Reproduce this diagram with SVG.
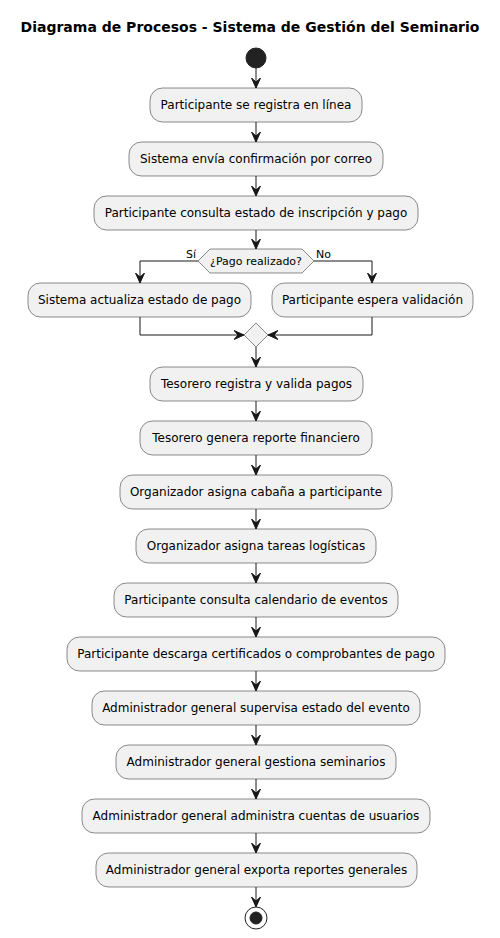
<svg xmlns="http://www.w3.org/2000/svg" width="500" height="938" viewBox="0 0 500 938">
<style>
.box{fill:#F1F1F1;stroke:#181818;stroke-width:0.5}
.t{font-family:"DejaVu Sans",sans-serif;font-size:12px;fill:#000;text-anchor:middle}
.s{font-family:"DejaVu Sans",sans-serif;font-size:11px;fill:#000}
.ln{fill:none;stroke:#181818;stroke-width:1}
.title{font-family:"DejaVu Sans",sans-serif;font-size:14px;font-weight:bold;text-anchor:middle}
</style>
<defs>
<marker id="ah" viewBox="0 0 12 10" refX="10" refY="5" markerWidth="12" markerHeight="10" markerUnits="userSpaceOnUse" orient="auto">
<polygon points="0,0.5 10,5 0,9.5 4,5" fill="#181818" stroke="#181818" stroke-width="1"/>
</marker>
</defs>
<rect width="500" height="938" fill="#FFFFFF"/>
<text class="title" x="250" y="32">Diagrama de Procesos - Sistema de Gestión del Seminario</text>

<g id="connectors">
<line class="ln" x1="256" y1="68" x2="256" y2="88" marker-end="url(#ah)"/>
<line class="ln" x1="256" y1="122" x2="256" y2="142" marker-end="url(#ah)"/>
<line class="ln" x1="256" y1="176" x2="256" y2="196" marker-end="url(#ah)"/>
<line class="ln" x1="256" y1="230" x2="256" y2="249" marker-end="url(#ah)"/>
<polyline class="ln" points="198,261 140,261 140,283" marker-end="url(#ah)"/>
<polyline class="ln" points="314,261 372,261 372,283" marker-end="url(#ah)"/>
<polyline class="ln" points="140,317 140,335 244,335" marker-end="url(#ah)"/>
<polyline class="ln" points="372,317 372,335 268,335" marker-end="url(#ah)"/>
<line class="ln" x1="256" y1="347" x2="256" y2="367" marker-end="url(#ah)"/>
<line class="ln" x1="256" y1="401" x2="256" y2="421" marker-end="url(#ah)"/>
<line class="ln" x1="256" y1="455" x2="256" y2="475" marker-end="url(#ah)"/>
<line class="ln" x1="256" y1="509" x2="256" y2="529" marker-end="url(#ah)"/>
<line class="ln" x1="256" y1="563" x2="256" y2="583" marker-end="url(#ah)"/>
<line class="ln" x1="256" y1="617" x2="256" y2="637" marker-end="url(#ah)"/>
<line class="ln" x1="256" y1="671" x2="256" y2="691" marker-end="url(#ah)"/>
<line class="ln" x1="256" y1="725" x2="256" y2="745" marker-end="url(#ah)"/>
<line class="ln" x1="256" y1="779" x2="256" y2="799" marker-end="url(#ah)"/>
<line class="ln" x1="256" y1="833" x2="256" y2="853" marker-end="url(#ah)"/>
<line class="ln" x1="256" y1="887" x2="256" y2="907" marker-end="url(#ah)"/>
<text class="s" x="186" y="258">Sí</text>
<text class="s" x="316" y="258">No</text>
</g>

<g id="start"><circle cx="256" cy="58" r="10" fill="#222222" stroke="#222222"/></g>

<g id="n1"><rect class="box" x="150" y="88" width="212" height="34" rx="12.5"/><text class="t" x="256" y="109">Participante se registra en línea</text></g>
<g id="n2"><rect class="box" x="129" y="142" width="254" height="34" rx="12.5"/><text class="t" x="256" y="163">Sistema envía confirmación por correo</text></g>
<g id="n3"><rect class="box" x="94" y="196" width="324" height="34" rx="12.5"/><text class="t" x="256" y="217">Participante consulta estado de inscripción y pago</text></g>
<g id="d1"><polygon class="box" points="198,261 210,249 302,249 314,261 302,273 210,273"/><text class="s" x="256" y="265" text-anchor="middle">¿Pago realizado?</text></g>
<g id="n4"><rect class="box" x="28" y="283" width="223" height="34" rx="12.5"/><text class="t" x="139.5" y="304">Sistema actualiza estado de pago</text></g>
<g id="n5"><rect class="box" x="272" y="283" width="201" height="34" rx="12.5"/><text class="t" x="372.5" y="304">Participante espera validación</text></g>
<g id="m1"><polygon class="box" points="256,323 268,335 256,347 244,335"/></g>
<g id="n6"><rect class="box" x="150" y="367" width="213" height="34" rx="12.5"/><text class="t" x="256.5" y="388">Tesorero registra y valida pagos</text></g>
<g id="n7"><rect class="box" x="140" y="421" width="232" height="34" rx="12.5"/><text class="t" x="256" y="442">Tesorero genera reporte financiero</text></g>
<g id="n8"><rect class="box" x="120" y="475" width="272" height="34" rx="12.5"/><text class="t" x="256" y="496">Organizador asigna cabaña a participante</text></g>
<g id="n9"><rect class="box" x="136" y="529" width="240" height="34" rx="12.5"/><text class="t" x="256" y="550">Organizador asigna tareas logísticas</text></g>
<g id="n10"><rect class="box" x="114" y="583" width="284" height="34" rx="12.5"/><text class="t" x="256" y="604">Participante consulta calendario de eventos</text></g>
<g id="n11"><rect class="box" x="67" y="637" width="378" height="34" rx="12.5"/><text class="t" x="256" y="658">Participante descarga certificados o comprobantes de pago</text></g>
<g id="n12"><rect class="box" x="92" y="691" width="328" height="34" rx="12.5"/><text class="t" x="256" y="712">Administrador general supervisa estado del evento</text></g>
<g id="n13"><rect class="box" x="116" y="745" width="280" height="34" rx="12.5"/><text class="t" x="256" y="766">Administrador general gestiona seminarios</text></g>
<g id="n14"><rect class="box" x="82" y="799" width="348" height="34" rx="12.5"/><text class="t" x="256" y="820">Administrador general administra cuentas de usuarios</text></g>
<g id="n15"><rect class="box" x="96" y="853" width="321" height="34" rx="12.5"/><text class="t" x="256.5" y="874">Administrador general exporta reportes generales</text></g>
<g id="end"><circle cx="256" cy="918" r="11" fill="none" stroke="#222222" stroke-width="1"/><circle cx="256" cy="918" r="6" fill="#222222" stroke="#222222"/></g>
</svg>
